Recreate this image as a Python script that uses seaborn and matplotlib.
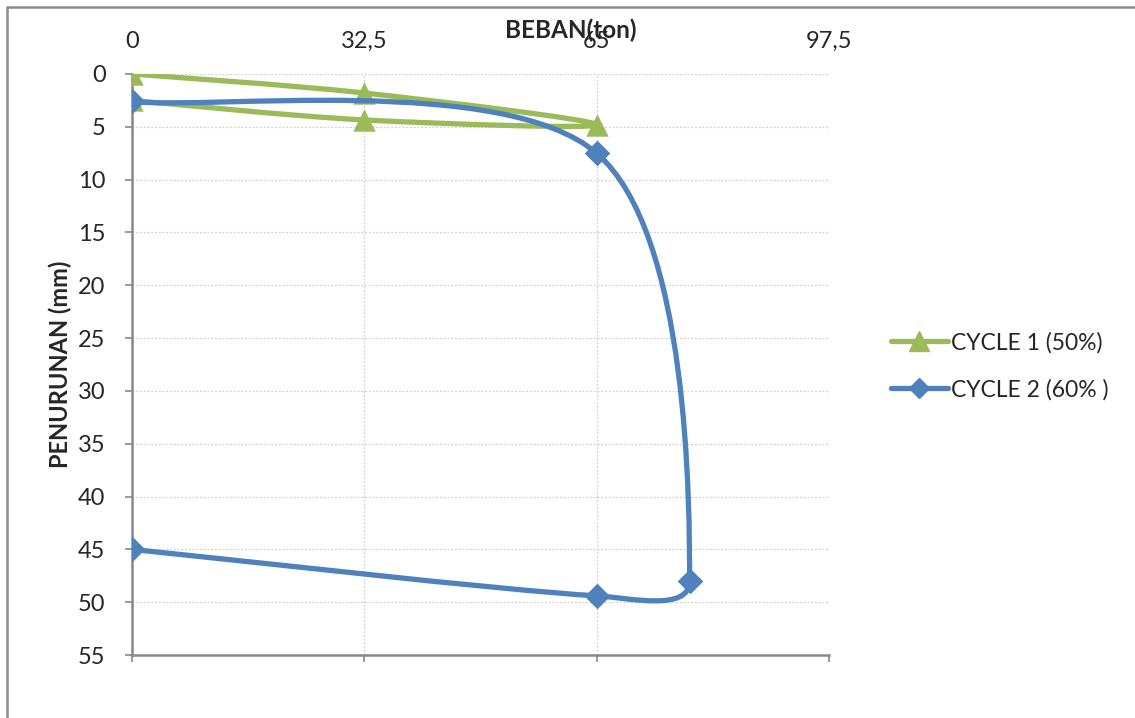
import matplotlib
matplotlib.use("Agg")
import matplotlib.pyplot as plt
import numpy as np
import seaborn as sns
from matplotlib.lines import Line2D
from matplotlib.patches import PathPatch, Rectangle
from matplotlib.path import Path

# pile loading test: load (ton) vs settlement (mm)
c1_load = [0, 32.5, 65, 32.5, 0]
c1_settle = [0, 1.8, 4.8, 4.35, 2.5]
c2_load = [0, 65, 78, 65, 0]
c2_settle = [2.6, 7.5, 48, 49.4, 45]
series_names = ["CYCLE 1 (50%)", "CYCLE 2 (60% )"]
x_ticks = [0, 32.5, 65, 97.5]
x_ticklabels = ["0", "32,5", "65", "97,5"]
y_ticks = list(range(0, 60, 5))

GREEN = "#9bbb59"
BLUE = "#4f81bd"

sns.set_theme(style="white")
plt.rcParams["font.family"] = ["Lato", "DejaVu Sans"]


def smooth_path(ax, xs, ys):
    """Excel-like smoothed line: cubic Bezier through the points, built in display space."""
    pts = ax.transData.transform(np.column_stack([xs, ys]))
    n = len(pts)
    verts = [pts[0]]
    codes = [Path.MOVETO]
    for i in range(n - 1):
        p1, p2 = pts[i], pts[i + 1]
        p0 = pts[i - 1] if i > 0 else p1
        p3 = pts[i + 2] if i + 2 < n else p2
        seg = np.linalg.norm(p2 - p1)
        d1 = (p2 - p0) / 6
        d2 = (p3 - p1) / 6
        for d in (d1, d2):
            ln = np.linalg.norm(d)
            if ln > seg / 3:
                d *= (seg / 3) / ln
        verts += [p1 + d1, p2 - d2, p2]
        codes += [Path.CURVE4] * 3
    verts = ax.transData.inverted().transform(np.array(verts))
    return Path(verts, codes)


fig = plt.figure(figsize=(11.35, 7.18), dpi=100)
ax = fig.add_axes([132 / 1135, 1 - 655 / 718, 697 / 1135, 581 / 718])
ax.set_xlim(0, 97.5)
ax.set_ylim(55, 0)

for lx, ly, col, mk, ms, z in [(c1_load, c1_settle, GREEN, "^", 260, 3),
                               (c2_load, c2_settle, BLUE, "D", 170, 5)]:
    ax.add_patch(PathPatch(smooth_path(ax, lx, ly), facecolor="none", edgecolor=col,
                           lw=3.8, capstyle="round", joinstyle="round", zorder=z))
    sns.scatterplot(x=lx, y=ly, marker=mk, s=ms, color=col, linewidth=0, ax=ax, zorder=z + 1)

ax.set_xticks(x_ticks)
ax.set_xticklabels(x_ticklabels)
ax.set_yticks(y_ticks)
ax.tick_params(axis="x", top=False, bottom=True, labeltop=True, labelbottom=False,
               direction="out", length=5, width=1.2, color="#888888", labelsize=17, pad=11)
ax.tick_params(axis="y", left=True, direction="out", length=5, width=1.2, color="#888888",
               labelsize=17, pad=14)
ax.grid(True, color="#d0d0d0", linestyle=(0, (1.5, 1.5)), lw=0.9)
for side in ("top", "right"):
    ax.spines[side].set_visible(False)
for side in ("left", "bottom"):
    ax.spines[side].set_color("#888888")
    ax.spines[side].set_linewidth(1.8)

ax.set_ylabel("PENURUNAN (mm)", fontsize=17, fontweight="bold")
ax.yaxis.set_label_coords(-0.086, 0.5)
fig.text(571 / 1135, 1 - 30 / 718, "BEBAN(ton)", fontsize=17.5, fontweight="bold",
         ha="center", va="center")

handles = [Line2D([], [], color=GREEN, lw=3.8, marker="^", markersize=14),
           Line2D([], [], color=BLUE, lw=3.8, marker="D", markersize=10.5)]
fig.legend(handles, series_names, loc="center left", bbox_to_anchor=(870 / 1135, 1 - 366 / 718),
           frameon=False, fontsize=16.5, handlelength=2.5, handletextpad=0.15, labelspacing=1.1)

fig.add_artist(Rectangle((7 / 1135, -0.1), 1.2, 1 - 7 / 718 + 0.1, transform=fig.transFigure,
                         facecolor="none", edgecolor="#8c8c8c", lw=1.8))

fig.savefig("out.png", dpi=100)
plt.close(fig)
